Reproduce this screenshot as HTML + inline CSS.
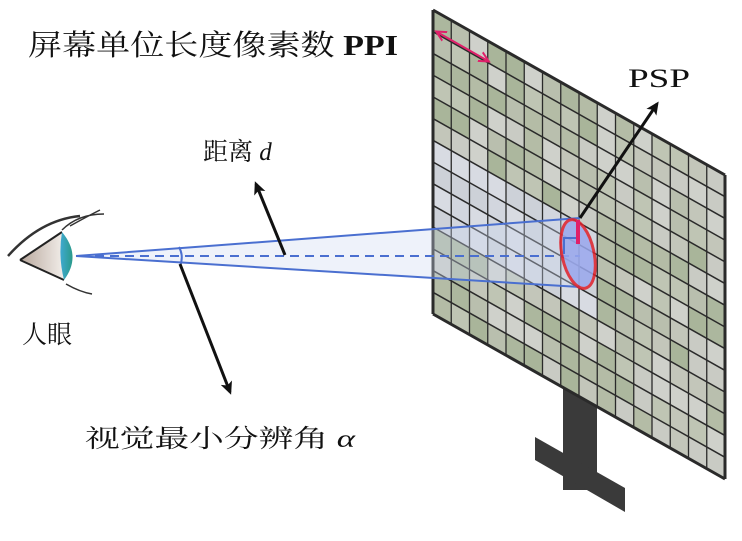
<!DOCTYPE html>
<html><head><meta charset="utf-8"><style>
html,body{margin:0;padding:0;background:#fff;width:742px;height:541px;overflow:hidden}
svg{display:block}
text{font-family:"Liberation Serif","Noto Serif CJK SC",serif;fill:#111}
</style></head><body>
<svg id="s" width="742" height="541" viewBox="0 0 742 541" xmlns="http://www.w3.org/2000/svg">
<defs>
<marker id="ah" markerWidth="14" markerHeight="14" refX="10" refY="7" orient="auto" markerUnits="userSpaceOnUse"><path d="M0,1 L13,7 L0,13 L3,7z" fill="#111"/></marker>
<marker id="pk" markerWidth="12" markerHeight="12" refX="9" refY="6" orient="auto-start-reverse" markerUnits="userSpaceOnUse"><path d="M0,1 L10,6 L0,11" fill="none" stroke="#e0206a" stroke-width="2"/></marker>
<linearGradient id="sc" x1="0" y1="0" x2="1" y2="0"><stop offset="0" stop-color="#3fa9d0"/><stop offset="1" stop-color="#2a9a8a"/></linearGradient>
<linearGradient id="wh" x1="0" y1="0" x2="1" y2="0"><stop offset="0" stop-color="#b8a79c"/><stop offset="1" stop-color="#f2eeea"/></linearGradient>
</defs>
<!-- stand -->
<rect x="563" y="380" width="34" height="110" fill="#3a3a3a"/>
<polygon points="535,437 625,488 625,512 535,460" fill="#3a3a3a"/>
<!-- screen -->
<g id="scr"></g>
<!-- texts -->
<text x="28" y="55" font-size="29" textLength="370" lengthAdjust="spacingAndGlyphs">屏幕单位长度像素数 <tspan font-weight="bold">PPI</tspan></text>
<text x="628" y="87" font-size="26" textLength="62" lengthAdjust="spacingAndGlyphs">PSP</text>
<text x="203" y="160" font-size="25">距离 <tspan font-style="italic">d</tspan></text>
<text x="22" y="343" font-size="25">人眼</text>
<text x="85" y="447" font-size="25" textLength="270" lengthAdjust="spacingAndGlyphs">视觉最小分辨角 <tspan font-style="italic">α</tspan></text>
<!-- eye -->
<path d="M8,256 Q40,220 80,216" stroke="#333" stroke-width="2.5" fill="none"/>
<path d="M20,260 L62,232 L64,280 Z" fill="url(#wh)"/>
<path d="M20,260 L62,232 M20,260 L64,280" stroke="#222" stroke-width="2" fill="none"/>
<path d="M62,232 Q82,256 64,280 Q58,256 62,232Z" fill="url(#sc)"/>
<path d="M62,230 Q78,214 104,214 M70,226 Q88,216 100,210 M66,284 Q80,292 92,294" stroke="#333" stroke-width="1.5" fill="none"/>
<!-- rays -->
<polygon points="76,256 580,218 580,287" fill="#cfd9f2" opacity="0.35"/>
<line x1="76" y1="256" x2="580" y2="218" stroke="#4a6fd0" stroke-width="2"/>
<line x1="76" y1="256" x2="580" y2="287" stroke="#4a6fd0" stroke-width="2"/>
<line x1="80" y1="256" x2="580" y2="256" stroke="#4a6fd0" stroke-width="2" stroke-dasharray="9,6"/>
<path d="M179,247 Q184,256 180,266" stroke="#4a6fd0" stroke-width="2" fill="none"/>
<ellipse cx="578" cy="254" rx="16" ry="35" fill="#9aa8ee" opacity="0.85" stroke="#e0202a" stroke-width="3" transform="rotate(-12 578 254)"/>
<polyline points="564,254 564,238 578,238" stroke="#4a6fd0" stroke-width="2" fill="none"/>
<line x1="578" y1="220" x2="578" y2="244" stroke="#e0206a" stroke-width="4"/>
<!-- arrows -->
<line x1="285" y1="255" x2="256" y2="184" stroke="#111" stroke-width="3" marker-end="url(#ah)"/>
<line x1="580" y1="218" x2="657" y2="104" stroke="#111" stroke-width="3" marker-end="url(#ah)"/>
<line x1="180" y1="264" x2="230" y2="392" stroke="#111" stroke-width="3" marker-end="url(#ah)"/>
<line x1="437" y1="32" x2="488" y2="61" stroke="#e0206a" stroke-width="2" marker-start="url(#pk)" marker-end="url(#pk)"/>
</svg>
<script>
var g=document.getElementById('scr'),ns="http://www.w3.org/2000/svg";
var X0=433,Y0=10,W=292,SK=165,H=304,C=16,R=14;
function P(u,v){return (X0+u*W)+","+(Y0+u*SK+v*H);}
var cols=["#b4bca6","#c3c6ba","#acb79e","#c9cbc4","#b9bfae","#cfd1cb","#a9b59a","#bfc5b4"];
var s=1;function rnd(){s=(s*9301+49297)%233280;return s/233280;}
for(var i=0;i<C;i++)for(var j=0;j<R;j++){var u0=i/C,u1=(i+1)/C,v0=j/R,v1=(j+1)/R;
var c=cols[Math.floor(rnd()*cols.length)];
if(j>=6&&j<=9&&i<9)c=["#d2d6de","#cdd1d8","#d8dbe2"][Math.floor(rnd()*3)];
var p=document.createElementNS(ns,"polygon");p.setAttribute("points",P(u0,v0)+" "+P(u1,v0)+" "+P(u1,v1)+" "+P(u0,v1));p.setAttribute("fill",c);g.appendChild(p);}
for(var i=0;i<=C;i++){var l=document.createElementNS(ns,"polyline");l.setAttribute("points",P(i/C,0)+" "+P(i/C,1));l.setAttribute("stroke","#2a2a2a");l.setAttribute("stroke-width",i==0||i==C?3:1.3);l.setAttribute("fill","none");g.appendChild(l);}
for(var j=0;j<=R;j++){var l=document.createElementNS(ns,"polyline");l.setAttribute("points",P(0,j/R)+" "+P(1,j/R));l.setAttribute("stroke","#2a2a2a");l.setAttribute("stroke-width",j==0||j==R?3:1.5);l.setAttribute("fill","none");g.appendChild(l);}
</script>
</body></html>
